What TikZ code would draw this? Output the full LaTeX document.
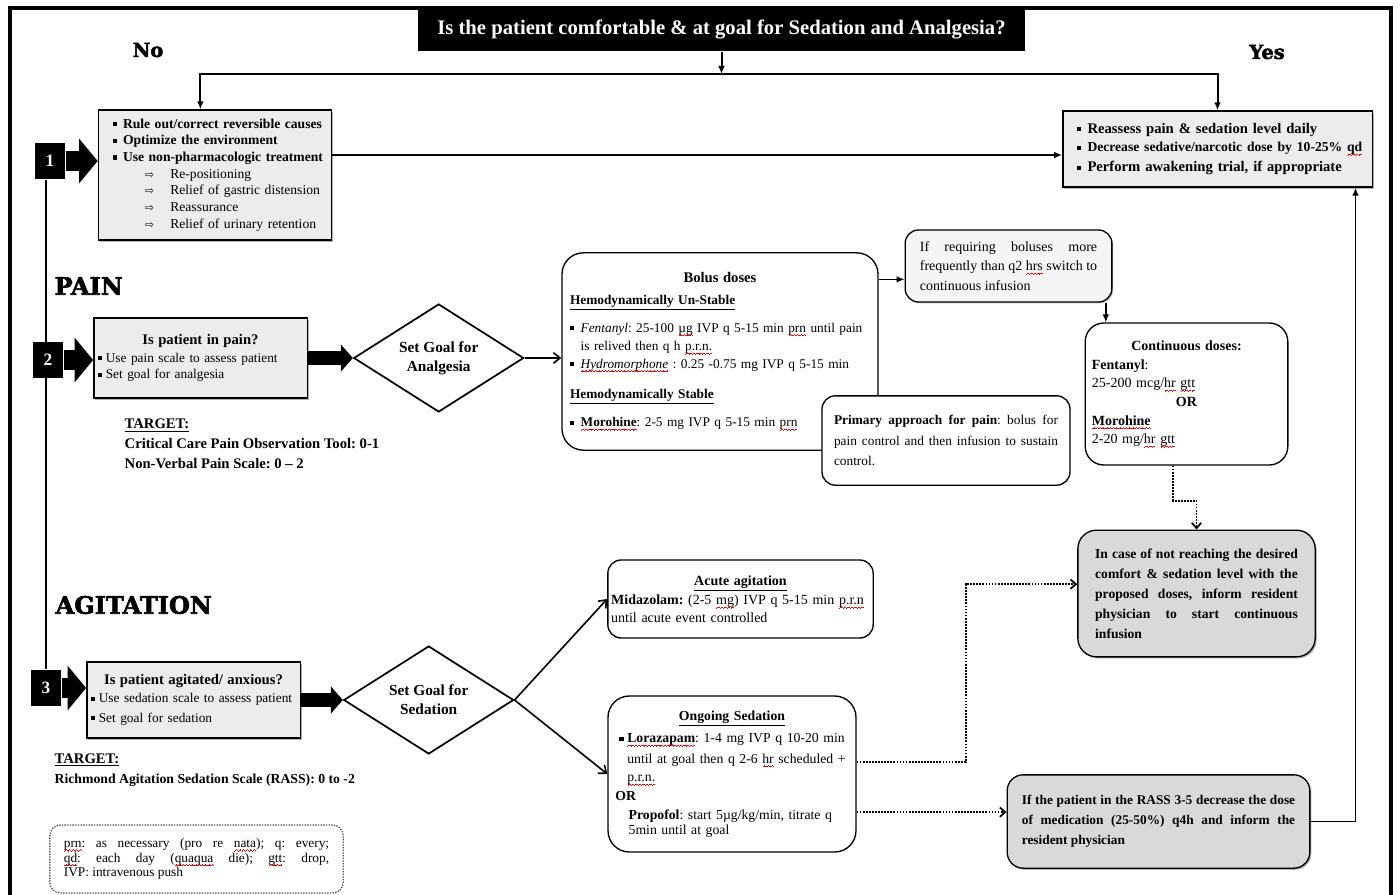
\documentclass[tikz,border=0pt]{standalone}
\usepackage{fontspec}
\setmainfont{Liberation Serif}
\newfontfamily\heavy[BoldFeatures={FakeBold=2.5}]{DejaVu Serif}
\newfontfamily\arrowfont{DejaVu Sans}
\usetikzlibrary{positioning, arrows.meta, shapes.geometric, shadows}

\frenchspacing
\newcommand{\bul}{\rule[0.3ex]{3.2pt}{3.2pt}}
\newsavebox{\splbox}
\newcommand{\spl}[1]{\sbox\splbox{#1}\leavevmode\rlap{\color{red}\hbox to \wd\splbox{\xleaders\hbox{\rule[-2.7pt]{0.6pt}{0.45pt}\rule[-2.3pt]{0.6pt}{0.45pt}\rule[-1.9pt]{0.6pt}{0.45pt}\rule[-2.3pt]{0.6pt}{0.45pt}}\hfill}}\usebox\splbox}
\newcommand{\subarrow}{\makebox[19pt][l]{\arrowfont\fontsize{8}{10}\selectfont ⇨}}

\begin{document}
\begin{tikzpicture}[x=0.75pt, y=-0.75pt, line width=1pt, >={Latex[length=6pt,width=5pt]},
    plain/.style={draw, align=left, inner ysep=2pt},
    graybox/.style={plain, fill=gray!15, drop shadow={shadow xshift=1.2pt, shadow yshift=-1.2pt, opacity=0.6}},
    roundbox/.style={plain, fill=white},
    darkbox/.style={plain, fill=gray!30, drop shadow={shadow xshift=1.2pt, shadow yshift=-1.2pt, opacity=0.6}},
    goal/.style={diamond, draw, line width=1.3pt, aspect=1.5, inner sep=0pt, minimum width=127.5pt, minimum height=81pt, align=center, font=\bfseries\fontsize{11.5}{14}\selectfont},
    marknum/.style={fill=black, text=white, minimum width=22.5pt, minimum height=27pt, inner sep=0pt, font=\bfseries\fontsize{13}{15}\selectfont},
    markarrow/.style={line width=15pt, -{Triangle[length=14pt,width=33pt]}},
    fatarrow/.style={line width=10.5pt, -{Triangle[length=9pt,width=20pt]}},
    barb/.style={line width=1.2pt, -{Straight Barb[length=5pt,width=8pt]}},
    dotarrow/.style={densely dotted, line width=1.3pt, -{Straight Barb[length=4pt,width=7pt]}},
    section/.style={inner sep=0pt, font=\heavy\bfseries\fontsize{18}{20}\selectfont},
    yesno/.style={inner sep=0pt, font=\heavy\bfseries\fontsize{14.5}{16}\selectfont},
    target/.style={align=left, inner sep=0pt, font=\bfseries\fontsize{11}{15}\selectfont}]
\useasboundingbox (0,0) rectangle (1400,895);

% frame
\draw[line width=2.5pt] (10,900) -- (10,8) -- (1391,8) -- (1391,900);

% question
\node[fill=black, text=white, font=\bfseries\fontsize{15.5}{17}\selectfont, minimum width=455pt, minimum height=31.5pt] (title) at (721.5,30) {Is the patient comfortable \& at goal for Sedation and Analgesia?};
\node[yesno] (no) at (148,50) {No};
\node[yesno] (yes) at (1267,52) {Yes};
\coordinate (split) at (721.5,74);

% step 1
\node[graybox, text width=167pt, minimum height=97.5pt, inner xsep=4pt, font=\fontsize{10.2}{12.5}\selectfont] (rule) at (215,175) {
  \hspace*{7pt}\makebox[7.5pt][l]{\bul}\textbf{Rule out/correct reversible causes}\\
  \hspace*{7pt}\makebox[7.5pt][l]{\bul}\textbf{Optimize the environment}\\
  \hspace*{7pt}\makebox[7.5pt][l]{\bul}\textbf{Use non-pharmacologic treatment}\\
  \hspace*{31pt}\subarrow Re-positioning\\
  \hspace*{31pt}\subarrow Relief of gastric distension\\
  \hspace*{31pt}\subarrow Reassurance\\
  \hspace*{31pt}\subarrow Relief of urinary retention};
\node[graybox, text width=224pt, minimum height=57pt, inner xsep=4pt, font=\bfseries\fontsize{11}{14}\selectfont] (reass) at (1217.5,149) {
  \hspace*{6.5pt}\makebox[8pt][l]{\bul}Reassess pain \& sedation level daily\\
  \hspace*{6.5pt}\makebox[8pt][l]{\bul}{\fontsize{10.2}{14}\selectfont Decrease sedative/narcotic dose by 10-25\% \spl{qd}}\\[1pt]
  \hspace*{6.5pt}\makebox[8pt][l]{\bul}Perform awakening trial, if appropriate};

% step 2: pain
\node[section, anchor=west] (painlabel) at (54,286) {PAIN};
\node[graybox, text width=154pt, minimum height=60pt, inner xsep=3pt, font=\fontsize{10}{12.5}\selectfont] (pain) at (200.5,358) {
  \makebox[\linewidth]{\bfseries\fontsize{11}{13}\selectfont Is patient in pain?}\\[1pt]
  \makebox[6pt][l]{\bul}Use pain scale to assess patient\\
  \makebox[6pt][l]{\bul}Set goal for analgesia};
\node[goal, right=33.75pt of pain] (dia1) {Set Goal for\\Analgesia};
\node[target, anchor=west] (tpain) at (124,444) {\underline{TARGET:}\\Critical Care Pain Observation Tool: 0-1\\Non-Verbal Pain Scale: 0 -- 2};

\node[roundbox, rounded corners=16pt, text width=225pt, minimum height=148pt, inner xsep=6pt, font=\fontsize{10}{13}\selectfont] (bolus) at (720,351.5) {
  \makebox[\linewidth]{\bfseries\fontsize{11}{13}\selectfont Bolus doses}\\[3pt]
  \textbf{\underline{Hemodynamically Un-Stable}}\\[8pt]
  \makebox[8pt][l]{\bul}\textit{Fentanyl}: 25-100 \spl{µg} IVP q 5-15 min \spl{prn} until pain\\[1pt]
  \hspace*{8pt}is relived then q h \spl{p.r.n.}\\
  \makebox[8pt][l]{\bul}\spl{\textit{Hydromorphone}} : 0.25 -0.75 mg IVP q 5-15 min\\[10pt]
  \textbf{\underline{Hemodynamically Stable}}\\[8pt]
  \makebox[8pt][l]{\bul}\textbf{\spl{Morohine}}: 2-5 mg IVP q 5-15 min \spl{prn}};
\node[roundbox, fill=gray!8, rounded corners=10pt, text width=133pt, minimum height=54pt, inner xsep=11pt, align=justify, font=\fontsize{10.5}{14.5}\selectfont, drop shadow={shadow xshift=1pt, shadow yshift=-1pt, opacity=0.5}] (ifreq) at (1008.5,266) {If requiring boluses more\linebreak frequently than q2 \spl{hrs} switch to\linebreak continuous infusion};
\node[roundbox, rounded corners=14pt, text width=142pt, minimum height=106.5pt, inner xsep=5pt, font=\fontsize{10.5}{14}\selectfont] (cont) at (1186.5,394) {
  \makebox[\linewidth]{\textbf{Continuous doses:}}\\
  \textbf{Fentanyl}:\\
  25-200 mcg/\spl{hr} \spl{gtt}\\
  \makebox[\linewidth]{\textbf{OR}}\\
  \textbf{\spl{Morohine}}\\
  2-20 mg/\spl{hr} \spl{gtt}};
\node[roundbox, rounded corners=10pt, text width=168pt, minimum height=67pt, inner xsep=9pt, align=justify, font=\fontsize{10}{15.5}\selectfont] (primary) at (946,440.5) {\textbf{Primary approach for pain}: bolus for\linebreak pain control and then infusion to sustain\linebreak control.};
\node[darkbox, rounded corners=14pt, text width=152pt, minimum height=95pt, inner xsep=13pt, align=justify, font=\bfseries\fontsize{10.2}{15}\selectfont] (incase) at (1196.5,593.5) {In case of not reaching the desired\linebreak comfort \& sedation level with the\linebreak proposed doses, inform resident\linebreak physician to start continuous\linebreak infusion};

% step 3: agitation
\node[section, anchor=west] (agitlabel) at (55,605) {AGITATION};
\node[graybox, text width=154pt, minimum height=57pt, inner xsep=3pt, font=\fontsize{10}{12.5}\selectfont] (agit) at (193.5,700) {
  \makebox[\linewidth]{\bfseries\fontsize{11}{13}\selectfont Is patient agitated/ anxious?}\\[1pt]
  \makebox[6pt][l]{\bul}Use sedation scale to assess patient\\[2pt]
  \makebox[6pt][l]{\bul}Set goal for sedation};
\node[goal, right=31.5pt of agit] (dia2) {Set Goal for\\Sedation};
\node[target, anchor=west, font=\bfseries\fontsize{10.3}{15}\selectfont] (tsed) at (54,770) {\underline{\fontsize{11}{15}\selectfont TARGET:}\\Richmond Agitation Sedation Scale (RASS): 0 to -2};

\node[roundbox, rounded corners=10pt, text width=194pt, minimum height=58.5pt, inner xsep=2.5pt, font=\fontsize{10.5}{13}\selectfont] (acute) at (740.5,599) {
  \makebox[\linewidth]{\textbf{\underline{Acute agitation}}}\\[1.5pt]
  \textbf{Midazolam:} (2-5 \spl{mg}) IVP q 5-15 min \spl{p.r.n}\\
  until acute event controlled};
\node[roundbox, rounded corners=16pt, text width=179pt, minimum height=117pt, inner xsep=3.5pt, font=\fontsize{10.3}{13.8}\selectfont] (ongoing) at (732,774) {
  \makebox[\linewidth]{\textbf{\underline{Ongoing Sedation}}}\\[3pt]
  \hspace*{5pt}\makebox[6pt][l]{\bul}\textbf{\spl{Lorazapam}}: 1-4 mg IVP q 10-20 min\\[1.5pt]
  \hspace*{11pt}until at goal then q 2-6 \spl{hr} scheduled +\\
  \hspace*{11pt}\spl{p.r.n.}\\
  \hspace*{2pt}\textbf{OR}\\[0.5pt]
  \hspace*{12pt}\textbf{Propofol}: start 5µg/kg/min, titrate q\\[-2.5pt]
  \hspace*{12pt}5min until at goal};
\node[darkbox, rounded corners=12pt, text width=205pt, minimum height=70pt, inner xsep=11pt, align=justify, font=\bfseries\fontsize{10}{15}\selectfont] (ifpat) at (1158.5,821.5) {If the patient in the RASS 3-5 decrease the dose\linebreak of medication (25-50\%) q4h and inform the\linebreak resident physician};

\node[roundbox, densely dotted, draw=black!70, rounded corners=8pt, text width=199pt, minimum height=51pt, inner xsep=10.5pt, align=justify, font=\fontsize{10}{11}\selectfont] (legend) at (196.5,859) {\spl{prn}: as necessary (pro re \spl{nata}); q: every;\linebreak \spl{qd}: each day (\spl{quaqua} die); \spl{gtt}: drop,\linebreak IVP: intravenous push};

% step markers
\node[marknum] (m1) at (50,161) {1};
\node[marknum] (m3) at (46,688) {3};
\draw[line width=1.5pt] (m1.south -| m3.north) -- (m3.north);
\node[marknum] (m2) at (48,360) {2};
\draw[markarrow] (m1.east) -- (m1.east -| rule.west);
\draw[markarrow] (m2.east) -- (m2.east -| pain.west);
\draw[markarrow] (m3.east) -- (m3.east -| agit.west);

% connectors
\draw[->, line width=1.5pt] (title) -- (split);
\draw[->, line width=1.5pt] (split) -| ([xshift=-11pt]rule.north);
\draw[->, line width=1.5pt] (split) -| (reass.north);
\draw[->, line width=1.3pt] ([yshift=15pt]rule.east) -- ([yshift=15pt]rule.east -| reass.west);
\draw[fatarrow] (pain) -- (dia1);
\draw[fatarrow] (agit) -- (dia2);
\draw[barb] (dia1.east) -- (dia1.east -| bolus.west);
\draw[->] ([yshift=-10pt]ifreq.west -| bolus.east) -- ([yshift=-10pt]ifreq.west);
\draw[->] ([xshift=-5pt]ifreq.south east) -- ([xshift=-5pt]ifreq.south east |- cont.north);
\draw[dotarrow] ([xshift=-10pt]cont.south) -- ++(0,35) -| (incase.north);
\draw[barb] (dia2.east) -- (acute.west);
\draw[barb] (dia2.east) -- (ongoing.west);
\draw[dotarrow] ([yshift=9pt]ongoing.east) -- ++(109,0) |- ([yshift=7pt]incase.west);
\draw[dotarrow] ([yshift=7pt]ifpat.west -| ongoing.east) -- ([yshift=7pt]ifpat.west);
\draw[->, line width=1.2pt] (ifpat.east) -| ([xshift=-13pt]reass.south east);
\end{tikzpicture}
\end{document}
